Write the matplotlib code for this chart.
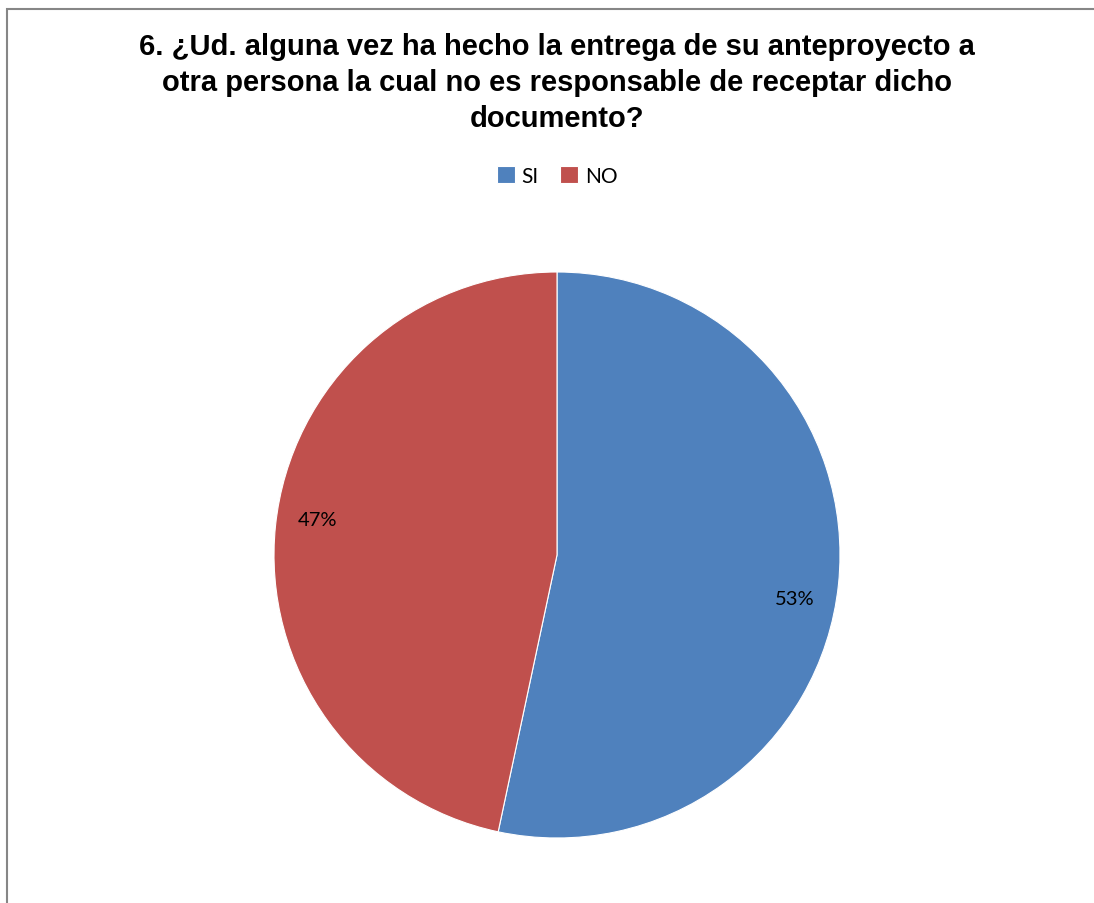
import matplotlib
matplotlib.use('Agg')
import matplotlib.pyplot as plt
from matplotlib.patches import Rectangle

labels = ['SI', 'NO']
counts = [16, 14]
colors = ['#4F81BD', '#C0504D']
title = ('6. ¿Ud. alguna vez ha hecho la entrega de su anteproyecto a\n'
         'otra persona la cual no es responsable de receptar dicho\n'
         'documento?')
# label spots as Excel placed them ("best fit"), in pie radius units
label_pos = [(0.841, -0.155), (-0.845, 0.127)]

W, H = 1094, 904
fig = plt.figure(figsize=(W / 100, H / 100), dpi=100)

# pie axes: centre (557, 556) px, radius 283 px
cx, cy, r = 557, 556, 283
ax = fig.add_axes([(cx - r) / W, (H - cy - r) / H, 2 * r / W, 2 * r / H])
wedges, texts, autotexts = ax.pie(counts, colors=colors, startangle=90, counterclock=False,
                                  autopct='%1.0f%%', pctdistance=0.85,
                                  wedgeprops=dict(edgecolor='white', linewidth=0.8))
for t, p in zip(autotexts, label_pos):
    t.set_fontsize(14.5)
    t.set_family('Lato')
    t.set_color('black')
    t.set_position(p)
ax.set_xlim(-1, 1)
ax.set_ylim(-1, 1)
ax.set_aspect('equal')
ax.axis('off')

fig.text(cx / W, 1 - 33 / H, title, ha='center', va='top', fontsize=21,
         fontweight='bold', family='Liberation Sans', linespacing=1.36)

fig.legend(wedges, labels, loc='center', bbox_to_anchor=(cx / W, 1 - 177 / H), ncol=2,
           frameon=False, prop={'family': 'Lato', 'size': 15},
           handlelength=0.9, handleheight=0.9, handletextpad=0.3, columnspacing=1.0)

# chart frame (cut at right and bottom in the reference)
fig.patches.append(Rectangle((7 / W, -0.1), 1.2, 1.1 - 10 / H, transform=fig.transFigure,
                             fill=False, edgecolor='#868686', linewidth=1.5, clip_on=False))

fig.savefig('out.png', dpi=100)
